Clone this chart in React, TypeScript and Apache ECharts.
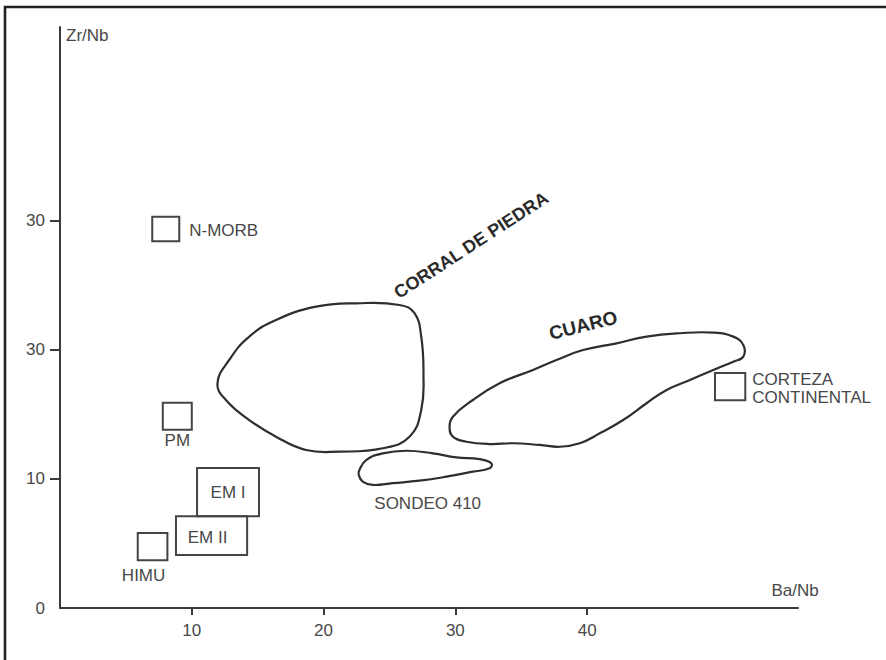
import React, { useEffect, useRef } from "react";
import * as echarts from "echarts";

// ---- axis ticks ----
const xTickValues = [10, 20, 30, 40];
const yTickMarks = [10, 20, 30];
const yTickValues = [0, 10, 20, 30];
const yTickLabels = ["0", "10", "30", "30"];

// ---- reference boxes (Ba/Nb, Zr/Nb ranges) ----
const boxNames = ["N-MORB", "PM", "EM I", "EM II", "HIMU", "CORTEZA\nCONTINENTAL"];
const boxXMin = [7.0, 7.8, 10.4, 8.8, 5.9, 49.7];
const boxXMax = [9.05, 10.0, 15.1, 14.2, 8.15, 52.0];
const boxYMin = [28.4, 13.8, 7.1, 4.1, 3.7, 16.1];
const boxYMax = [30.3, 15.9, 10.85, 7.1, 5.8, 18.2];

// ---- field outlines ----
const corralPoints = [
  [25.76, 23.47], [22.47, 23.6], [19.43, 23.34], [16.39, 22.31], [14.36, 21.02],
  [12.84, 19.21], [11.95, 17.41], [12.59, 16.11], [14.36, 14.56], [16.39, 13.27],
  [18.67, 12.24], [21.2, 12.11], [24.49, 12.37], [26.52, 13.27], [27.41, 15.34],
  [27.58, 18.18], [27.41, 21.02], [26.9, 22.83],
];
const cuaroPoints = [
  [29.81, 14.82], [31.33, 16.11], [33.36, 17.41], [35.89, 18.44], [37.67, 19.21],
  [39.69, 19.98], [42.23, 20.5], [44.51, 21.02], [47.04, 21.28], [49.57, 21.33],
  [51.09, 21.02], [51.85, 20.37], [51.85, 19.47], [51.09, 19.08], [49.57, 18.44],
  [47.8, 17.66], [46.03, 16.89], [44.51, 15.86], [42.73, 14.56], [40.96, 13.53],
  [39.44, 12.76], [37.92, 12.49], [36.4, 12.63], [34.37, 12.76], [32.6, 12.7],
  [30.83, 12.88], [29.81, 13.27], [29.56, 14.04],
];
const sondeoPoints = [
  [22.72, 10.69], [23.23, 11.46], [24.49, 11.98], [26.27, 12.18], [28.29, 11.98],
  [30.07, 11.67], [31.84, 11.53], [32.73, 11.21], [32.6, 10.82], [31.33, 10.56],
  [29.31, 10.17], [27.28, 9.86], [25.25, 9.67], [23.73, 9.53], [22.97, 9.79],
  [22.67, 10.3],
];
const regionNames = ["CORRAL DE PIEDRA", "CUARO", "SONDEO 410"];
const regionLabelX = [31.2, 39.7, 27.9];
const regionLabelY = [28.1, 21.9, 8.1];

// ---- styling (kept apart from data) ----
const FONT = '"Liberation Sans", Arial, sans-serif';
const TEXT = "#484848";
const LINE = "#3a3a3a";
const boxLabelPlacement = [
  { pos: "right", dx: 10, dy: 1 },
  { pos: "bottom", dx: 0, dy: 2 },
  { pos: "inside", dx: 0, dy: 0 },
  { pos: "inside", dx: -4, dy: 2 },
  { pos: "bottom", dx: -9, dy: 6 },
  { pos: "right", dx: 7, dy: 2 },
];
const regionLabelStyle = [
  { rotate: 33, bold: true, size: 18 },
  { rotate: 14, bold: true, size: 19 },
  { rotate: 0, bold: false, size: 17 },
];

export default function App() {
  const ref = useRef<HTMLDivElement>(null);
  useEffect(() => {
    if (!ref.current) return;
    const chart = echarts.init(ref.current, null, { renderer: "svg" });
    const regionPoints = [corralPoints, cuaroPoints, sondeoPoints];

    chart.setOption({
      animation: false,
      backgroundColor: "#fff",
      grid: { left: 60, right: 88, top: 27, bottom: 52 },
      xAxis: {
        type: "value",
        min: 0,
        max: 56,
        name: "Ba/Nb",
        nameLocation: "end",
        nameGap: -3,
        nameTextStyle: {
          color: TEXT, fontFamily: FONT, fontSize: 17,
          align: "center", verticalAlign: "bottom", padding: [0, 0, 9, 0],
        },
        axisLine: { show: true, lineStyle: { color: LINE, width: 2 } },
        axisTick: { show: true, customValues: xTickValues, length: 7, lineStyle: { color: LINE, width: 2 } },
        axisLabel: {
          customValues: xTickValues, margin: 14, color: TEXT, fontSize: 17, fontFamily: FONT,
        },
        splitLine: { show: false },
      },
      yAxis: {
        type: "value",
        min: 0,
        max: 45,
        name: "Zr/Nb",
        nameLocation: "end",
        nameGap: -8,
        nameTextStyle: {
          color: TEXT, fontFamily: FONT, fontSize: 17,
          align: "left", verticalAlign: "middle", padding: [0, 0, 0, 6],
        },
        axisLine: { show: true, lineStyle: { color: LINE, width: 2 } },
        axisTick: { show: true, customValues: yTickMarks, length: 10, lineStyle: { color: LINE, width: 2 } },
        axisLabel: {
          customValues: yTickValues,
          margin: 15,
          color: TEXT,
          fontSize: 17,
          fontFamily: FONT,
          formatter: (v: number) => yTickLabels[yTickValues.indexOf(v)] ?? "",
        },
        splitLine: { show: false },
      },
      graphic: [
        {
          type: "rect",
          shape: { x: 5, y: 7, width: 900, height: 720 },
          style: { fill: "none", stroke: "#222", lineWidth: 2.6 },
          silent: true,
        },
      ],
      series: [
        {
          type: "custom",
          name: "fields",
          coordinateSystem: "cartesian2d",
          encode: { x: 0, y: 1 },
          data: regionNames.map((_, i) => [regionLabelX[i], regionLabelY[i], i]),
          renderItem: (params: any, api: any) => {
            const i = api.value(2);
            const pts = regionPoints[i].map((p) => api.coord(p));
            const lp = api.coord([regionLabelX[i], regionLabelY[i]]);
            const st = regionLabelStyle[i];
            return {
              type: "group",
              children: [
                {
                  type: "polygon",
                  shape: { points: pts, smooth: 0.45 },
                  style: { fill: "none", stroke: "#2e2e2e", lineWidth: 2.2 },
                },
                {
                  type: "text",
                  x: lp[0],
                  y: lp[1],
                  rotation: (st.rotate * Math.PI) / 180,
                  style: {
                    text: regionNames[i],
                    fill: st.bold ? "#2a2a2a" : TEXT,
                    fontFamily: FONT,
                    fontSize: st.size,
                    fontWeight: st.bold ? "bold" : "normal",
                    align: "center",
                    verticalAlign: "middle",
                  },
                },
              ],
            };
          },
        },
        {
          type: "custom",
          name: "boxes",
          coordinateSystem: "cartesian2d",
          encode: { x: 0, y: 1 },
          data: boxNames.map((_, i) => [(boxXMin[i] + boxXMax[i]) / 2, (boxYMin[i] + boxYMax[i]) / 2, i]),
          renderItem: (params: any, api: any) => {
            const i = api.value(2);
            const p0 = api.coord([boxXMin[i], boxYMax[i]]);
            const p1 = api.coord([boxXMax[i], boxYMin[i]]);
            const w = p1[0] - p0[0];
            const h = p1[1] - p0[1];
            const pl = boxLabelPlacement[i];
            let tx = p0[0] + w / 2, ty = p0[1] + h / 2;
            let align = "center", va = "middle";
            if (pl.pos === "right") { tx = p1[0]; align = "left"; }
            if (pl.pos === "bottom") { ty = p1[1]; va = "top"; }
            return {
              type: "group",
              children: [
                {
                  type: "rect",
                  shape: { x: p0[0], y: p0[1], width: w, height: h },
                  style: { fill: "none", stroke: "#444", lineWidth: 2 },
                },
                {
                  type: "text",
                  x: tx + pl.dx,
                  y: ty + pl.dy,
                  style: {
                    text: boxNames[i],
                    fill: TEXT,
                    fontFamily: FONT,
                    fontSize: 17,
                    lineHeight: 18,
                    align,
                    verticalAlign: va,
                  },
                },
              ],
            };
          },
        },
      ],
    });
    return () => chart.dispose();
  }, []);

  return (
    <div
      ref={ref}
      style={{ position: "fixed", left: 0, top: 0, width: 886, height: 660, background: "#fff" }}
    />
  );
}
